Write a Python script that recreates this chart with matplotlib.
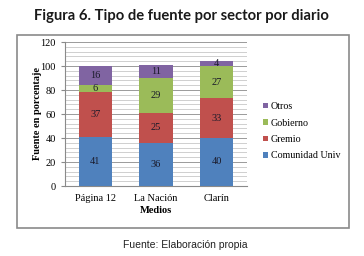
import numpy as np
import matplotlib
matplotlib.use('Agg')
from matplotlib import pyplot as plt
from matplotlib.patches import Rectangle
from matplotlib.ticker import MultipleLocator

# datos
medios = ['Página 12', 'La Nación', 'Clarín']
comunidad = [41, 36, 40]
gremio = [37, 25, 33]
gobierno = [6, 29, 27]
otros = [16, 11, 4]

series = [('Comunidad Univ', comunidad, '#4F81BD'),
          ('Gremio', gremio, '#C0504D'),
          ('Gobierno', gobierno, '#9BBB59'),
          ('Otros', otros, '#8064A2')]

serif = 'Liberation Serif'

fig = plt.figure(figsize=(3.64, 2.56), dpi=100)
fig.patch.set_facecolor('white')

# marco gris alrededor del grafico
fig.patches.append(Rectangle((17/364, 1 - 228/256), 332/364, 193/256,
                             transform=fig.transFigure, fill=False,
                             edgecolor='#8a8a8a', linewidth=1.2))

ax = fig.add_axes([65/364, 1 - 186/256, 182/364, 144/256])
x = np.arange(len(medios))
bottom = np.zeros(len(medios))
handles = []
for name, vals, color in series:
    vals = np.array(vals)
    b = ax.bar(x, vals, width=0.55, bottom=bottom, color=color, zorder=3, label=name)
    handles.append(b)
    for xi, v, bo in zip(x, vals, bottom):
        ax.text(xi, bo + v / 2, str(v), ha='center', va='center',
                fontsize=7.5, family=serif, color='#1a1a2a', zorder=4)
    bottom += vals

ax.set_ylim(0, 120)
ax.set_xlim(-0.5, 2.5)
ax.yaxis.set_major_locator(MultipleLocator(20))
ax.yaxis.set_minor_locator(MultipleLocator(4))
ax.grid(axis='y', which='major', color='#9a9a9a', linewidth=0.7, zorder=0)
ax.grid(axis='y', which='minor', color='#c8c8c8', linewidth=0.6, zorder=0)
ax.set_axisbelow(True)

for s in ['top', 'right']:
    ax.spines[s].set_visible(False)
ax.spines['left'].set_color('#8a8a8a')
ax.spines['bottom'].set_color('#8a8a8a')
ax.tick_params(axis='y', which='major', length=3, color='#8a8a8a', labelsize=7.5)
ax.tick_params(axis='y', which='minor', length=0)
ax.tick_params(axis='x', length=0, labelsize=7.5, pad=6)
ax.set_xticks(x)
ax.set_xticklabels(medios, family=serif)
for t in ax.get_yticklabels():
    t.set_family(serif)
ax.set_xlabel('Medios', family=serif, fontsize=7.5, fontweight='bold', labelpad=2)
ax.set_ylabel('Fuente en porcentaje', family=serif, fontsize=7.5, fontweight='bold', labelpad=-1)

leg = fig.legend(handles[::-1], [s[0] for s in series][::-1],
                 loc='upper left', bbox_to_anchor=(259/364, 1 - 98/256),
                 frameon=False, prop={'family': serif, 'size': 7.2},
                 handlelength=0.45, handleheight=0.45, handletextpad=0.35,
                 labelspacing=0.75, borderaxespad=0)

fig.text(181/364, 1 - 16/256, 'Figura 6. Tipo de fuente por sector por diario',
         ha='center', va='center', fontsize=10.6, fontweight='bold',
         family='Lato', color='#1a1a1a')
fig.text(185/364, 1 - 245/256, 'Fuente: Elaboración propia',
         ha='center', va='center', fontsize=7.5, family='Liberation Sans', color='#222222')

fig.savefig('out.png', dpi=100)
